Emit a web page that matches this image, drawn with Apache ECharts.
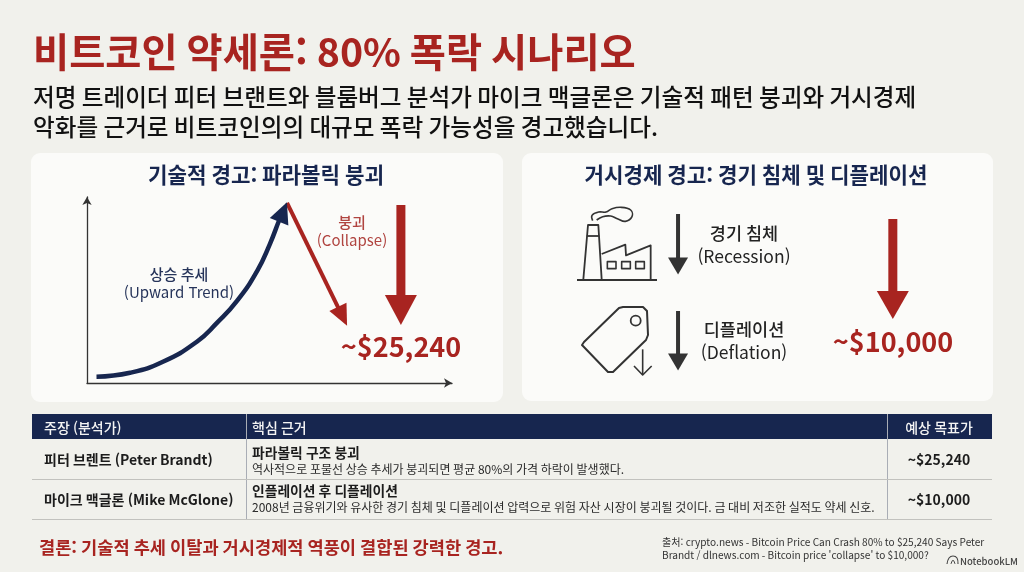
<!DOCTYPE html>
<html lang="ko">
<head>
<meta charset="utf-8">
<style>html,body{margin:0;padding:0;background:#f1f1ec}#c{width:1024px;height:572px}</style>
<script src="https://cdn.jsdelivr.net/npm/echarts@6/dist/echarts.min.js"></script>
</head>
<body>
<div id="c"></div>
<script>
// ---- data ----
const trendX = [2.6, 11.8, 20.8, 30.1, 35.6, 41.1, 46.6, 50.1, 52.9, 53.7];
const trendY = [3.4, 5.5, 11.4, 22.2, 32.3, 44.1, 60.2, 74.7, 88.7, 91.9];
const collapseX = [54.8, 70];
const collapseY = [96.8, 35.8];
const brandtDropX = [86, 86];
const brandtDropY = [95.7, 39.2];
const mcgloneDropX = [78.9, 78.9];
const mcgloneDropY = [73.4, 38.7];
const recessionX = [33.2, 33.2];
const recessionY = [75.4, 54.4];
const deflationX = [33.2, 33.2];
const deflationY = [36.3, 15.7];

const titleText = '비트코인 약세론: 80% 폭락 시나리오';
const introLines = ['저명 트레이더 피터 브랜트와 블룸버그 분석가 마이크 맥글론은 기술적 패턴 붕괴와 거시경제',
                    '악화를 근거로 비트코인의의 대규모 폭락 가능성을 경고했습니다.'];
const tableHeaders = ['주장 (분석가)', '핵심 근거', '예상 목표가'];
const analysts = ['피터 브렌트 (Peter Brandt)', '마이크 맥글론 (Mike McGlone)'];
const reasons = ['파라볼릭 구조 붕괴', '인플레이션 후 디플레이션'];
const details = ['역사적으로 포물선 상승 추세가 붕괴되면 평균 80%의 가격 하락이 발생했다.',
                 '2008년 금융위기와 유사한 경기 침체 및 디플레이션 압력으로 위험 자산 시장이 붕괴될 것이다. 금 대비 저조한 실적도 약세 신호.'];
const targets = ['~$25,240', '~$10,000'];
const conclusion = '결론: 기술적 추세 이탈과 거시경제적 역풍이 결합된 강력한 경고.';
const sources = ["출처: crypto.news - Bitcoin Price Can Crash 80% to $25,240 Says Peter",
                 "Brandt / dlnews.com - Bitcoin price 'collapse' to $10,000?"];

// ---- helpers ----
const RED = '#a82420', NAVY = '#17264f', INK = '#222222', DARK = '#333333';
const FF = '"Noto Sans CJK KR","Noto Sans",sans-serif';

function zip(xs, ys) { return xs.map((x, i) => [x, ys[i]]); }
function arrow(xs, ys, idx, color, width, head, rot, smooth) {
  const pts = zip(xs, ys);
  return {
    type: 'line', xAxisIndex: idx, yAxisIndex: idx, silent: true, animation: false,
    smooth: smooth || false, symbol: 'none', showSymbol: true, showAllSymbol: true,
    lineStyle: { color: color, width: width, cap: 'butt' },
    itemStyle: { color: color },
    data: pts.map((p, i) => i === pts.length - 1
      ? { value: p, symbol: 'triangle', symbolSize: head, symbolRotate: rot }
      : { value: p, symbol: 'none' })
  };
}
function txt(text, x, y, size, weight, fill, align) {
  return { type: 'text', silent: true, style: {
    text: text, x: x, y: y, fontSize: size, fontWeight: weight, fontFamily: FF,
    fill: fill, textAlign: align || 'left', textVerticalAlign: 'middle' } };
}
function rect(x, y, w, h, fill, r) {
  return { type: 'rect', silent: true, shape: { x, y, width: w, height: h, r: r || 0 }, style: { fill } };
}
function seg(x1, y1, x2, y2, stroke, lw) {
  return { type: 'line', silent: true, shape: { x1, y1, x2, y2 }, style: { stroke, lineWidth: lw } };
}
function poly(points, lw, closed, smooth, stroke) {
  return { type: closed ? 'polygon' : 'polyline', silent: true, shape: { points, smooth: smooth || 0 },
           style: { stroke: stroke || DARK, lineWidth: lw, fill: closed ? 'none' : null, lineJoin: 'round' } };
}

// ---- decoration: panels, table, text, icons ----
const ox = 520, oy = 150;
const zp = (zx, zy) => [ox + zx / 3, oy + zy / 3];
const graphics = [
  rect(31, 153, 472, 249, '#fbfbf9', 9),
  rect(522, 153, 471, 248, '#fbfbf9', 9),

  txt(titleText, 33, 52, 39.3, 700, RED),
  txt(introLines[0], 33, 97, 23.6, 500, '#111111'),
  txt(introLines[1], 33, 127, 23.6, 500, '#111111'),

  txt('기술적 경고: 파라볼릭 붕괴', 266, 175, 21.2, 700, NAVY, 'center'),
  txt('상승 추세', 179, 274, 15, 500, '#26345a', 'center'),
  txt('(Upward Trend)', 179, 292, 15, 400, '#26345a', 'center'),
  txt('붕괴', 352, 222, 15, 500, '#b04440', 'center'),
  txt('(Collapse)', 352, 240, 15, 400, '#b04440', 'center'),
  txt(targets[0], 401, 347, 27, 700, RED, 'center'),

  txt('거시경제 경고: 경기 침체 및 디플레이션', 756, 175, 21.2, 700, NAVY, 'center'),
  txt('경기 침체', 744, 233, 17.5, 500, INK, 'center'),
  txt('(Recession)', 744, 256, 17.5, 400, INK, 'center'),
  txt('디플레이션', 744, 329, 17.5, 500, INK, 'center'),
  txt('(Deflation)', 744, 352, 17.5, 400, INK, 'center'),
  txt(targets[1], 893, 342, 27, 700, RED, 'center'),

  // factory icon
  seg(577, 280, 657, 280, DARK, 2),
  poly([zp(190, 388), zp(204, 225), zp(235, 225), zp(245, 388)], 1.8),
  seg(zp(200, 0)[0], zp(0, 258)[1], zp(238, 0)[0], zp(0, 258)[1], DARK, 1.8),
  poly([zp(245, 312), zp(316, 284), zp(318, 316), zp(392, 286), zp(392, 388)], 1.8),
  poly([zp(262, 335), zp(288, 335), zp(288, 356), zp(262, 356)], 1.6, true),
  poly([zp(305, 335), zp(331, 335), zp(331, 356), zp(305, 356)], 1.6, true),
  poly([zp(347, 335), zp(373, 335), zp(373, 356), zp(347, 356)], 1.6, true),
  poly([zp(218, 212), zp(216, 196), zp(236, 186), zp(258, 186), zp(276, 176), zp(304, 172), zp(332, 180), zp(336, 200), zp(316, 214), zp(292, 206), zp(272, 198), zp(248, 200), zp(230, 210)], 1.6, false, 0.4),

  // price tag icon (corners chamfered to read as rounded)
  poly([[582, 345], [584, 342], [619, 308], [623, 307], [643, 307], [647, 311], [648, 335], [646, 340], [613, 372], [608, 372]], 2, true),
  { type: 'circle', silent: true, shape: { cx: 635.7, cy: 320.7, r: 5 }, style: { stroke: DARK, lineWidth: 1.8, fill: 'none' } },
  seg(zp(368, 0)[0], zp(0, 598)[1], zp(368, 0)[0], zp(0, 675)[1], DARK, 1.6),
  poly([zp(342, 648), zp(368, 675), zp(395, 648)], 1.6),

  // table
  rect(32, 414, 960, 25, NAVY),
  seg(246.5, 414, 246.5, 519, '#a9adb5', 1),
  seg(887.5, 414, 887.5, 519, '#a9adb5', 1),
  seg(32, 479.5, 992, 479.5, '#c2c2be', 1),
  seg(32, 519.5, 992, 519.5, '#c2c2be', 1),
  txt(tableHeaders[0], 44, 428, 14, 500, '#f4f4f4'),
  txt(tableHeaders[1], 252, 428, 14, 500, '#f4f4f4'),
  txt(tableHeaders[2], 939, 428, 14, 500, '#f4f4f4', 'center'),
  txt(analysts[0], 44, 460, 14, 700, '#1c1c1c'),
  txt(analysts[1], 44, 500, 14, 700, '#1c1c1c'),
  txt(reasons[0], 252, 453, 13.8, 700, '#1c1c1c'),
  txt(details[0], 252, 469, 12, 400, '#2a2a2a'),
  txt(reasons[1], 252, 491, 13.8, 700, '#1c1c1c'),
  txt(details[1], 252, 507, 12, 400, '#2a2a2a'),
  txt(targets[0], 939, 460, 14, 700, '#1c1c1c', 'center'),
  txt(targets[1], 939, 500, 14, 700, '#1c1c1c', 'center'),

  txt(conclusion, 39, 547, 17.6, 700, RED),
  txt(sources[0], 662, 542, 10.1, 400, '#333333'),
  txt(sources[1], 662, 555, 10.1, 400, '#333333'),
  // NotebookLM mark
  poly([[947, 564], [949, 558], [953, 556], [957, 558], [958, 564]], 1.1, false, 0.4, '#444444'),
  poly([[951, 564], [953, 560], [955, 564]], 1, false, 0.4, '#444444'),
  txt('NotebookLM', 960, 561, 9.5, 500, '#444444')
];

// ---- chart ----
const chart = echarts.init(document.getElementById('c'), null, { renderer: 'canvas' });
const hidden = { show: false, min: 0, max: 100, type: 'value' };
const axisLine = { show: true, symbol: ['none', 'arrow'], symbolSize: [7, 8], lineStyle: { color: DARK, width: 1.3 } };
chart.setOption({
  backgroundColor: '#f1f1ec',
  animation: false,
  tooltip: { show: false },
  legend: { show: false },
  graphic: { elements: graphics },
  grid: [
    { left: 87, top: 197, width: 365, height: 186, show: false },
    { left: 522, top: 153, width: 470, height: 248, show: false }
  ],
  xAxis: [
    { type: 'value', gridIndex: 0, min: 0, max: 100, axisLine: axisLine, axisTick: { show: false }, axisLabel: { show: false }, splitLine: { show: false } },
    Object.assign({ gridIndex: 1 }, hidden)
  ],
  yAxis: [
    { type: 'value', gridIndex: 0, min: 0, max: 100, axisLine: axisLine, axisTick: { show: false }, axisLabel: { show: false }, splitLine: { show: false } },
    Object.assign({ gridIndex: 1 }, hidden)
  ],
  series: [
    arrow(trendX, trendY, 0, NAVY, 4.5, [20, 21], -22, 0.5),
    arrow(collapseX, collapseY, 0, RED, 4, [19, 21], 205.8),
    arrow(brandtDropX, brandtDropY, 0, RED, 9, [32, 30], 180),
    arrow(mcgloneDropX, mcgloneDropY, 1, RED, 9, [32, 28], 180),
    arrow(recessionX, recessionY, 1, DARK, 4, [20, 17], 180),
    arrow(deflationX, deflationY, 1, DARK, 4, [20, 17], 180)
  ]
});
</script>
</body>
</html>
